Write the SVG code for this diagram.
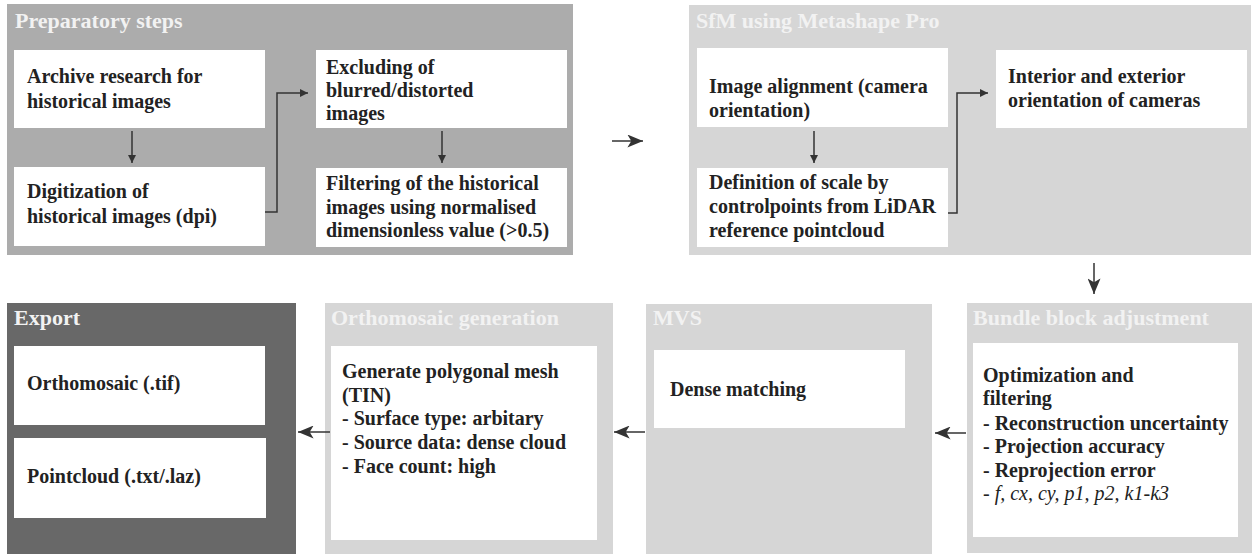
<svg xmlns="http://www.w3.org/2000/svg" width="1253" height="554" viewBox="0 0 1253 554">
<style>
.bg{fill:#ffffff}
.pmid{fill:#acacac}
.plight{fill:#d6d6d6}
.pdark{fill:#686868}
.box{fill:#ffffff}
.title{font-family:"Liberation Serif","Times New Roman",serif;font-weight:bold;font-size:22px;fill:#f2f2f2}
.t{font-family:"Liberation Serif","Times New Roman",serif;font-weight:bold;font-size:20px;fill:#222222}
.ti{font-family:"Liberation Serif","Times New Roman",serif;font-style:italic;font-size:20px;fill:#222222}
.c{fill:none;stroke:#333333;stroke-width:1.5}
</style>
<defs>
<marker id="ah" viewBox="0 0 10 10" refX="10" refY="5" markerWidth="8" markerHeight="8" orient="auto" markerUnits="userSpaceOnUse">
<path d="M0,0 L10,5 L0,10 z" fill="#333333"/>
</marker>
<marker id="ahb" viewBox="0 0 12 10" refX="12" refY="5" markerWidth="16" markerHeight="13" orient="auto" markerUnits="userSpaceOnUse">
<path d="M0,0 L12,5 L0,10 L3,5 z" fill="#333333"/>
</marker>
</defs>
<rect class="bg" x="0" y="0" width="1253" height="554"/>

<g id="panel-preparatory">
<rect class="pmid" x="7" y="4" width="566" height="251"/>
<text class="title" x="15" y="28">Preparatory steps</text>
</g>
<g id="node-archive">
<rect class="box" x="14" y="50" width="251" height="78"/>
<text class="t" x="27" y="83">Archive research for</text>
<text class="t" x="27" y="108">historical images</text>
</g>
<g id="node-digitization">
<rect class="box" x="14" y="167" width="251" height="79"/>
<text class="t" x="27" y="198">Digitization of</text>
<text class="t" x="27" y="223">historical images (dpi)</text>
</g>
<g id="node-excluding">
<rect class="box" x="316" y="50" width="251" height="78"/>
<text class="t" x="326" y="74">Excluding of</text>
<text class="t" x="326" y="97">blurred/distorted</text>
<text class="t" x="326" y="120">images</text>
</g>
<g id="node-filtering">
<rect class="box" x="316" y="168" width="251" height="79"/>
<text class="t" x="326" y="190">Filtering of the historical</text>
<text class="t" x="326" y="214">images using normalised</text>
<text class="t" x="326" y="237">dimensionless value (&gt;0.5)</text>
</g>

<g id="panel-sfm">
<rect class="plight" x="689" y="5" width="562" height="250"/>
<text class="title" x="696" y="28">SfM using Metashape Pro</text>
</g>
<g id="node-alignment">
<rect class="box" x="697" y="48" width="251" height="79"/>
<text class="t" x="709" y="93">Image alignment (camera</text>
<text class="t" x="709" y="117">orientation)</text>
</g>
<g id="node-definition">
<rect class="box" x="697" y="168" width="251" height="79"/>
<text class="t" x="709" y="189">Definition of scale by</text>
<text class="t" x="709" y="213">controlpoints from LiDAR</text>
<text class="t" x="709" y="237">reference pointcloud</text>
</g>
<g id="node-interior">
<rect class="box" x="996" y="50" width="251" height="78"/>
<text class="t" x="1008" y="83">Interior and exterior</text>
<text class="t" x="1008" y="107">orientation of cameras</text>
</g>

<g id="panel-export">
<rect class="pdark" x="7" y="303" width="289" height="251"/>
<text class="title" x="14" y="325">Export</text>
</g>
<g id="node-orthomosaic">
<rect class="box" x="14" y="346" width="251" height="79"/>
<text class="t" x="27" y="390">Orthomosaic (.tif)</text>
</g>
<g id="node-pointcloud">
<rect class="box" x="14" y="438" width="252" height="80"/>
<text class="t" x="27" y="483">Pointcloud (.txt/.laz)</text>
</g>

<g id="panel-ortho">
<rect class="plight" x="325" y="303" width="288" height="251"/>
<text class="title" x="331" y="325">Orthomosaic generation</text>
</g>
<g id="node-mesh">
<rect class="box" x="331" y="346" width="266" height="194"/>
<text class="t" x="342" y="378">Generate polygonal mesh</text>
<text class="t" x="342" y="402">(TIN)</text>
<text class="t" x="342" y="425">- Surface type: arbitary</text>
<text class="t" x="342" y="449">- Source data: dense cloud</text>
<text class="t" x="342" y="473">- Face count: high</text>
</g>

<g id="panel-mvs">
<rect class="plight" x="646" y="304" width="286" height="250"/>
<text class="title" x="653" y="325">MVS</text>
</g>
<g id="node-dense">
<rect class="box" x="654" y="350" width="251" height="78"/>
<text class="t" x="670" y="396">Dense matching</text>
</g>

<g id="panel-bundle">
<rect class="plight" x="967" y="303" width="285" height="250"/>
<text class="title" x="973" y="325">Bundle block adjustment</text>
</g>
<g id="node-optimization">
<rect class="box" x="973" y="343" width="265" height="194"/>
<text class="t" x="983" y="382">Optimization and</text>
<text class="t" x="983" y="405">filtering</text>
<text class="t" x="983" y="430">- Reconstruction uncertainty</text>
<text class="t" x="983" y="453">- Projection accuracy</text>
<text class="t" x="983" y="477">- Reprojection error</text>
<text class="ti" x="983" y="500">- f, cx, cy, p1, p2, k1-k3</text>
</g>

<g id="connectors">
<path class="c" d="M132,131 L132,163" marker-end="url(#ah)"/>
<path class="c" d="M265,212 L277,212 L277,93 L308,93" marker-end="url(#ah)"/>
<path class="c" d="M442,131 L442,163" marker-end="url(#ah)"/>
<path class="c" d="M612,141 L643,141" marker-end="url(#ahb)"/>
<path class="c" d="M814,131 L814,163" marker-end="url(#ah)"/>
<path class="c" d="M948,213 L957,213 L957,93 L988,93" marker-end="url(#ah)"/>
<path class="c" d="M1094,263 L1094,294" marker-end="url(#ahb)"/>
<path class="c" d="M966,433 L935,433" marker-end="url(#ahb)"/>
<path class="c" d="M645,432 L614,432" marker-end="url(#ahb)"/>
<path class="c" d="M330,432 L298,432" marker-end="url(#ahb)"/>
</g>
</svg>
